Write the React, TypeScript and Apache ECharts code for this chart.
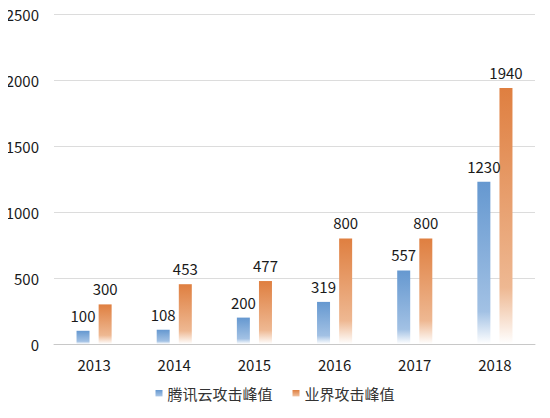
import React from 'react';
import * as echarts from 'echarts';

const years = ['2013', '2014', '2015', '2016', '2017', '2018'];
const tencentPeak = [100, 108, 200, 319, 557, 1230];
const industryPeak = [300, 453, 477, 800, 800, 1940];

const FONT = '"Noto Sans CJK SC", "Noto Sans", sans-serif';

const App: React.FC = () => {
  const chartRef = React.useRef<HTMLDivElement>(null);

  React.useEffect(() => {
    if (!chartRef.current) return;
    const chart = echarts.init(chartRef.current, undefined, { renderer: 'svg' });

    const blueFill = new echarts.graphic.LinearGradient(0, 0, 0, 1, [
      { offset: 0, color: '#6598d0' },
      { offset: 0.8, color: '#a2c1e4' },
      { offset: 1, color: '#ffffff' },
    ]);
    const orangeFill = new echarts.graphic.LinearGradient(0, 0, 0, 1, [
      { offset: 0, color: '#df7f40' },
      { offset: 0.78, color: '#eeb892' },
      { offset: 1, color: '#ffffff' },
    ]);

    const label = {
      show: true,
      position: 'top' as const,
      distance: 8,
      color: '#1a1a1a',
      fontSize: 15,
      fontFamily: FONT,
    };

    chart.setOption({
      animation: false,
      textStyle: { fontFamily: FONT },
      grid: { left: 54, right: 15, top: 14, bottom: 74 },
      legend: {
        bottom: 12,
        left: 'center',
        icon: 'rect',
        itemWidth: 7,
        itemHeight: 7,
        itemGap: 20,
        textStyle: { fontSize: 15, color: '#333', fontFamily: FONT },
        data: ['腾讯云攻击峰值', '业界攻击峰值'],
      },
      xAxis: {
        type: 'category',
        data: years,
        axisTick: { show: false },
        axisLine: { lineStyle: { color: '#c8c8c8' } },
        axisLabel: { color: '#1a1a1a', fontSize: 15, margin: 13, fontFamily: FONT },
      },
      yAxis: {
        type: 'value',
        min: 0,
        max: 2500,
        interval: 500,
        axisLine: { show: false },
        axisTick: { show: false },
        splitLine: { lineStyle: { color: '#dcdcdc' } },
        axisLabel: {
          color: '#1a1a1a',
          fontSize: 15,
          margin: 15,
          fontFamily: FONT,
          formatter: (v: number) => String(v),
        },
      },
      series: [
        {
          name: '腾讯云攻击峰值',
          type: 'bar',
          data: tencentPeak,
          barWidth: 13,
          barGap: '70%',
          itemStyle: { color: blueFill },
          label,
        },
        {
          name: '业界攻击峰值',
          type: 'bar',
          data: industryPeak,
          barWidth: 13,
          itemStyle: { color: orangeFill },
          label,
        },
      ],
    });

    return () => {
      chart.dispose();
    };
  }, []);

  // cancel the body's default 8px margin so the chart fills the whole window
  return <div ref={chartRef} style={{ width: 550, height: 418, margin: -8 }} />;
};

export default App;
